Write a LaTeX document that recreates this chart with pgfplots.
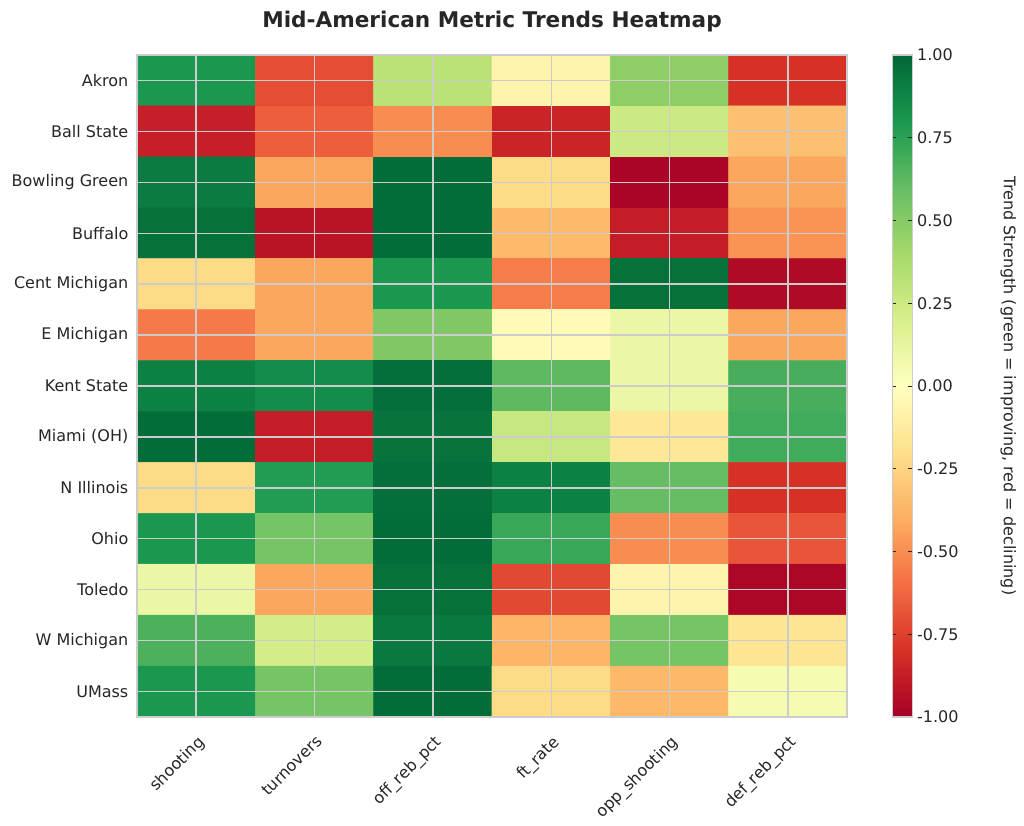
\documentclass[border=0pt]{standalone}
\usepackage{pgfplots}
\usepackage{pgfplotstable}
\usepackage{fontspec}
\setmainfont{DejaVu Sans}
\pgfplotsset{compat=1.18}
\definecolor{txt}{HTML}{262626}
\definecolor{gridc}{HTML}{CCCCCC}

\pgfplotstableread{
x y v
0 0 0.80
1 0 -0.70
2 0 0.32
3 0 -0.07
4 0 0.48
5 0 -0.80
0 1 -0.87
1 1 -0.65
2 1 -0.50
3 1 -0.85
4 1 0.25
5 1 -0.33
0 2 0.92
1 2 -0.42
2 2 0.98
3 2 -0.22
4 2 -0.98
5 2 -0.42
0 3 0.96
1 3 -0.92
2 3 0.98
3 3 -0.35
4 3 -0.88
5 3 -0.48
0 4 -0.22
1 4 -0.42
2 4 0.80
3 4 -0.55
4 4 0.96
5 4 -0.96
0 5 -0.56
1 5 -0.42
2 5 0.52
3 5 -0.03
4 5 0.10
5 5 -0.42
0 6 0.90
1 6 0.85
2 6 0.97
3 6 0.62
4 6 0.10
5 6 0.68
0 7 0.98
1 7 -0.88
2 7 0.95
3 7 0.27
4 7 -0.15
5 7 0.70
0 8 -0.22
1 8 0.78
2 8 0.97
3 8 0.90
4 8 0.60
5 8 -0.80
0 9 0.80
1 9 0.55
2 9 0.98
3 9 0.72
4 9 -0.50
5 9 -0.68
0 10 0.10
1 10 -0.42
2 10 0.96
3 10 -0.72
4 10 -0.07
5 10 -0.97
0 11 0.67
1 11 0.22
2 11 0.93
3 11 -0.37
4 11 0.55
5 11 -0.17
0 12 0.80
1 12 0.55
2 12 0.98
3 12 -0.22
4 12 -0.36
5 12 0.05
}\trends

\begin{document}
\begin{tikzpicture}[x=0.75pt,y=0.75pt]
\useasboundingbox (-137,-108) rectangle (887,717);
\begin{axis}[
  at={(0,0)}, anchor=south west,
  scale only axis, width=532.5pt, height=496.5pt,
  xmin=-0.5, xmax=5.5, ymin=-0.5, ymax=12.5,
  y dir=reverse,
  axis on top,
  xtick={0,...,5}, ytick={0,...,12},
  xticklabels={shooting, turnovers, off\_reb\_pct, ft\_rate, opp\_shooting, def\_reb\_pct},
  yticklabels={Akron, Ball State, Bowling Green, Buffalo, Cent Michigan, E Michigan, Kent State, Miami (OH), N Illinois, Ohio, Toledo, W Michigan, UMass},
  major tick length=0pt,
  tick label style={font=\fontsize{12}{14}\selectfont, text=txt},
  xticklabel style={rotate=45, anchor=north east, xshift=-5.5pt, yshift=-6pt},
  yticklabel style={xshift=-3pt},
  grid=major, grid style={gridc, line width=1pt},
  axis line style={gridc, line width=1pt},
  title={\textbf{Mid-American Metric Trends Heatmap}},
  title style={font=\fontsize{16.2}{19}\selectfont, text=txt, at={(0.5,1)}, anchor=south, yshift=8pt},
  colormap={RdYlGn}{
    rgb255(0)=(165,0,38) rgb255(1)=(215,48,39) rgb255(2)=(244,109,67)
    rgb255(3)=(253,174,97) rgb255(4)=(254,224,139) rgb255(5)=(255,255,191)
    rgb255(6)=(217,239,139) rgb255(7)=(166,217,106) rgb255(8)=(102,189,99)
    rgb255(9)=(26,152,80) rgb255(10)=(0,104,55)},
  point meta min=-1, point meta max=1,
  colorbar,
  colorbar style={
    at={(parent axis.north east)}, anchor=north west, xshift=25.5pt,
    width=15pt, height=496.5pt,
    ytick={-1,-0.75,...,1},
    yticklabel pos=right,
    yticklabel style={font=\fontsize{12}{14}\selectfont, text=txt,
      /pgf/number format/fixed, /pgf/number format/fixed zerofill,
      /pgf/number format/precision=2, /pgf/number format/assume math mode=true},
    major tick length=3pt, tick style={txt, line width=0.6pt},
    axis line style={gridc, line width=0.8pt},
    ylabel={Trend Strength (green = improving, red = declining)},
    every axis y label/.style={at={(axis description cs:1,0.5)}, xshift=72pt, rotate=-90, anchor=center,
      font=\fontsize{12}{14}\selectfont, text=txt},
  },
]
\addplot[matrix plot*, mesh/cols=6, point meta=explicit] table[x=x, y=y, meta=v] {\trends};
\end{axis}
\end{tikzpicture}
\end{document}
